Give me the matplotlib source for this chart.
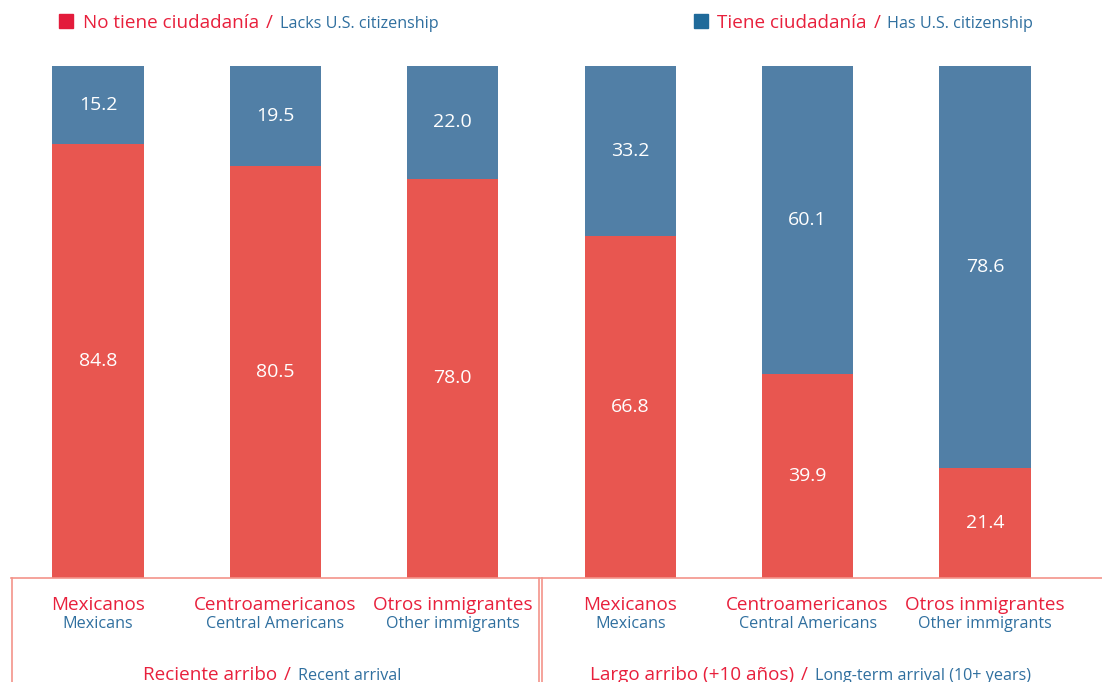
import matplotlib
matplotlib.use('Agg')
import matplotlib.pyplot as plt
import numpy as np

plt.rcParams['font.family'] = ['Open Sans', 'DejaVu Sans']

cat_es = ['Mexicanos', 'Centroamericanos', 'Otros inmigrantes'] * 2
cat_en = ['Mexicans', 'Central Americans', 'Other immigrants'] * 2
sin_ciud = [84.8, 80.5, 78.0, 66.8, 39.9, 21.4]
con_ciud = [15.2, 19.5, 22.0, 33.2, 60.1, 78.6]

RED_BAR = '#e85650'
BLUE_BAR = '#517fa6'
RED_TXT = '#e8203c'
BLUE_TXT = '#2f6f9f'
LINE = '#f3948a'
ES, EN = 13.6, 11.6

W, H = 1102, 682
fig = plt.figure(figsize=(W / 100, H / 100), dpi=100)

# axes placed in pixel terms: bars from y=66 (100%) to y=578 (0%)
ax = fig.add_axes([0, (H - 578) / H, 1, (578 - 66) / H])
step = 177.4
ax.set_xlim(-98 / step, (W - 98) / step)
ax.set_ylim(0, 100)
ax.axis('off')

x = np.arange(len(sin_ciud))
ax.bar(x, sin_ciud, width=0.515, color=RED_BAR)
ax.bar(x, con_ciud, width=0.515, bottom=sin_ciud, color=BLUE_BAR)
for i in range(len(x)):
    ax.text(x[i], sin_ciud[i] / 2, f'{sin_ciud[i]:.1f}', ha='center', va='center',
            color='white', fontsize=14)
    ax.text(x[i], sin_ciud[i] + con_ciud[i] / 2, f'{con_ciud[i]:.1f}', ha='center',
            va='center', color='white', fontsize=14)

renderer = fig.canvas.get_renderer()


def px(xp, yp):
    return xp / W, 1 - yp / H


def chain(parts, xp, yp, center=False, gap=7):
    # parts: list of (text, color, size); baseline-aligned, placed left to right
    objs = []
    for txt, col, size in parts:
        t = fig.text(0, 0, txt, color=col, fontsize=size, va='baseline', ha='left')
        objs.append(t)
    widths = [t.get_window_extent(renderer).width for t in objs]
    total = sum(widths) + gap * (len(objs) - 1)
    cur = xp - total / 2 if center else xp
    for t, w in zip(objs, widths):
        t.set_position(px(cur, yp))
        cur += w + gap


# legend
fig.patches.append(plt.Rectangle(px(59, 28), 14 / W, 14 / H, color='#e31b3b',
                                 transform=fig.transFigure, figure=fig))
chain([('No tiene ciudadanía', RED_TXT, ES), ('/', RED_TXT, ES),
       ('Lacks U.S. citizenship', BLUE_TXT, EN)], 83, 28)
fig.patches.append(plt.Rectangle(px(694, 28), 14 / W, 14 / H, color='#1f6a9a',
                                 transform=fig.transFigure, figure=fig))
chain([('Tiene ciudadanía', RED_TXT, ES), ('/', RED_TXT, ES),
       ('Has U.S. citizenship', BLUE_TXT, EN)], 717, 28)

# category labels
for i in range(len(x)):
    xc = 98 + step * i
    fig.text(*px(xc, 610), cat_es[i], ha='center', va='baseline', color=RED_TXT, fontsize=ES)
    fig.text(*px(xc, 628), cat_en[i], ha='center', va='baseline', color=BLUE_TXT, fontsize=EN)

# group labels
chain([('Reciente arribo', RED_TXT, ES), ('/', RED_TXT, ES),
       ('Recent arrival', BLUE_TXT, EN)], 272, 680, center=True)
chain([('Largo arribo (+10 años)', RED_TXT, ES), ('/', RED_TXT, ES),
       ('Long-term arrival (10+ years)', BLUE_TXT, EN)], 810, 680, center=True)

# frame lines
for xs, ys in [([11, W], [578, 578]), ([11.5, 11.5], [578, H]),
               ([538.5, 538.5], [578, H]), ([541.5, 541.5], [578, H])]:
    fig.add_artist(plt.Line2D([v / W for v in xs], [1 - v / H for v in ys],
                              color=LINE, lw=1.2, transform=fig.transFigure))

plt.savefig('out.png', dpi=100)
